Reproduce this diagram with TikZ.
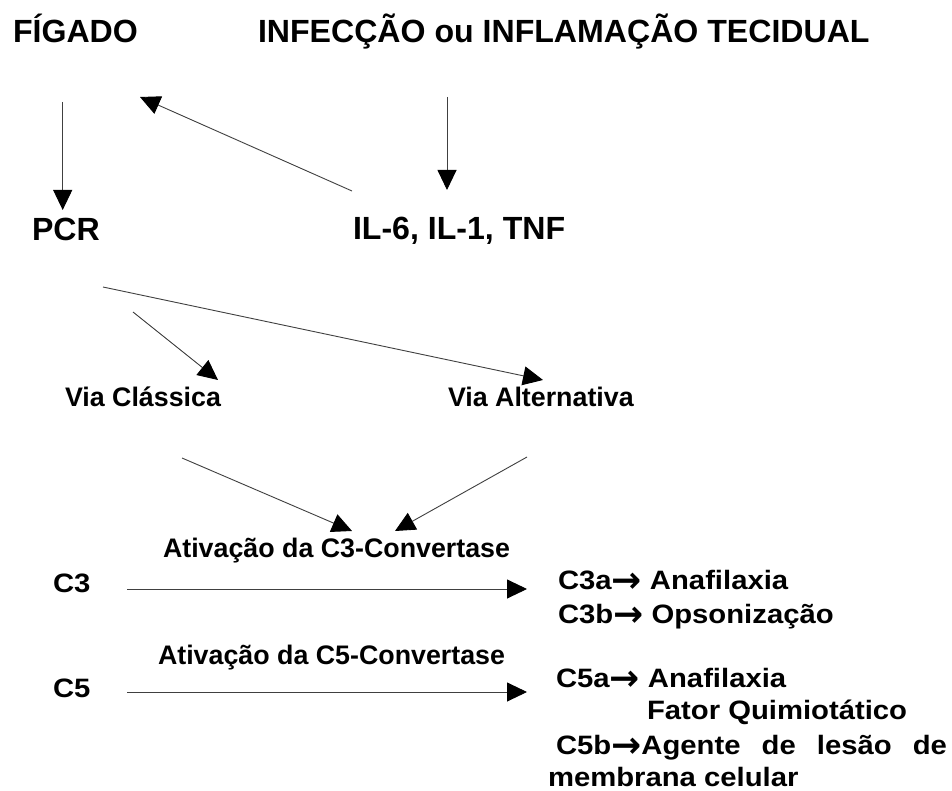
\documentclass[tikz,border=0pt]{standalone}
\usepackage{fontspec}
\setmainfont{Liberation Sans}[BoldFont={* Bold}]
\newfontfamily\bigf{Liberation Sans}[UprightFont={* Bold}]
\newfontfamily\rf{Liberation Sans}[UprightFont={* Bold},FakeStretch=1.1]
\newfontfamily\arrf{DejaVu Sans}[UprightFont={* Bold}]
\newcommand{\rarr}{\raisebox{-3pt}{\arrf\fontsize{36}{36}\selectfont →}}
\usetikzlibrary{arrows.meta}
\begin{document}
\begin{tikzpicture}[x=1pt,y=-1pt,
  lbl/.style={inner sep=0pt,outer sep=0pt,anchor=base west},
  big/.style={lbl,font={\bigf\fontsize{32.1}{38}\selectfont}},
  mid/.style={lbl,font={\bigf\fontsize{26.8}{32}\selectfont}},
  rt/.style={lbl,font={\rf\fontsize{26.6}{32}\selectfont}},
  conn/.style={draw=black!75,line width=0.9pt,-{Triangle[length=20pt,width=19pt,color=black]}},
]
\fill[white] (0,0) rectangle (952,791);
\useasboundingbox (0,0) rectangle (952,791);

% texts
\node[big] (figado) at (13,43) {FÍGADO};
\node[big] (infec) at (258,43) {INFECÇÃO ou INFLAMAÇÃO TECIDUAL};
\node[big] (pcr) at (32,241) {PCR};
\node[big] (il) at (353,240) {IL-6, IL-1, TNF};
\node[mid] (viac) at (65,406) {Via Clássica};
\node[mid] (viaa) at (448,406) {Via Alternativa};
\node[mid] (at3) at (163,557) {Ativação da C3-Convertase};
\node[mid] (at5) at (158,664) {Ativação da C5-Convertase};
\node[rt] (c3) at (53,592) {C3};
\node[rt] (c5) at (53,697) {C5};
\node[rt] (c3a) at (558,589) {C3a\rarr\ Anafilaxia};
\node[rt] (c3b) at (558,623) {C3b\rarr\ Opsonização};
\node[rt] (c5a) at (556,687) {C5a\rarr\ Anafilaxia};
\node[rt] (fator) at (647,719) {Fator Quimiotático};
\node[rt] (c5b) at (556,754) {\makebox[391pt][s]{C5b\rarr Agente de lesão de}};
\node[rt] (memb) at (548,786) {membrana celular};

% connector ends
\coordinate (figS) at (62.7,102);
\coordinate (pcrN) at (62.7,210);
\coordinate (ilW) at (352,191);
\coordinate (figE) at (140,97);
\coordinate (infS) at (447,97);
\coordinate (ilN) at (447,190);
\coordinate (pcrA) at (103,287);
\coordinate (viaaN) at (543,380);
\coordinate (pcrB) at (133,312);
\coordinate (viacN) at (218,380);
\coordinate (viacS) at (182,458);
\coordinate (at3L) at (352,531);
\coordinate (viaaS) at (527,457);
\coordinate (at3R) at (395,531);
\coordinate (c3E) at (127,589);
\coordinate (c3aW) at (527,589);
\coordinate (c5E) at (127,692);
\coordinate (c5aW) at (527,692);

% connectors
\draw[conn] (figS) -- (pcrN);
\draw[conn] (ilW) -- (figE);
\draw[conn] (infS) -- (ilN);
\draw[conn] (pcrA) -- (viaaN);
\draw[conn] (pcrB) -- (viacN);
\draw[conn] (viacS) -- (at3L);
\draw[conn] (viaaS) -- (at3R);
\draw[conn] (c3E) -- (c3aW);
\draw[conn] (c5E) -- (c5aW);
\end{tikzpicture}
\end{document}
